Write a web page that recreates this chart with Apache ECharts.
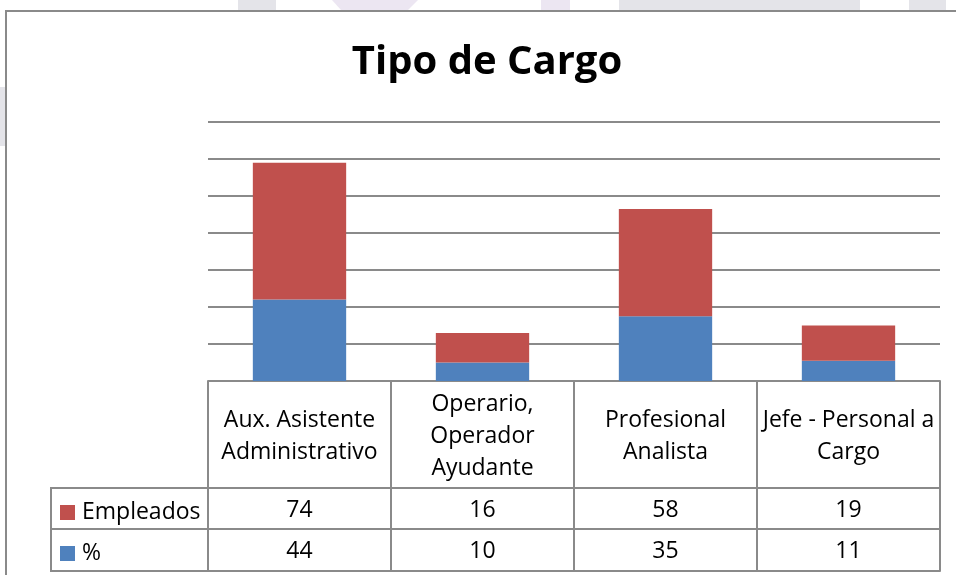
<!DOCTYPE html>
<html><head><meta charset="utf-8">
<script src="https://cdn.jsdelivr.net/npm/echarts@6/dist/echarts.min.js"></script>
<style>html,body{margin:0;padding:0;background:#fff}#c{width:956px;height:575px}</style>
</head><body><div id="c"></div>
<script>
const titleText = 'Tipo de Cargo';
const categories = ['Aux. Asistente\nAdministrativo', 'Operario,\nOperador\nAyudante', 'Profesional\nAnalista', 'Jefe - Personal a\nCargo'];
const empleados = [74, 16, 58, 19];
const porcentaje = [44, 10, 35, 11];
const seriesNames = ['Empleados', '%'];

const FONT = 'Open Sans';
const FS = 23;
const LINE = '#8a8a8a';
const chart = echarts.init(document.getElementById('c'), null, {renderer: 'canvas'});
const GB = 575 - 381;
function tableAxis(offset, labelFn, tickLen, margin) {
  return {
    type: 'category', data: categories, position: 'bottom', offset: offset, gridIndex: 0,
    axisLine: {show: true, lineStyle: {color: LINE, width: 2}},
    axisTick: {show: tickLen > 0, length: tickLen, lineStyle: {color: LINE, width: 2}},
    axisLabel: {show: !!labelFn, formatter: labelFn || undefined, margin: margin, verticalAlign: 'middle',
      color: '#000', fontFamily: FONT, fontSize: FS, lineHeight: 32, interval: 0},
    splitLine: {show: false}
  };
}
chart.setOption({
  animation: false,
  backgroundColor: '#fff',
  title: {text: titleText, left: 482, top: 38, textAlign: 'center',
    textStyle: {fontFamily: FONT, fontWeight: 'bold', fontSize: 40, color: '#000'}},
  legend: {
    data: seriesNames, orient: 'vertical', left: 55, top: 496, itemGap: 18,
    itemWidth: 15, itemHeight: 15, icon: 'rect', selectedMode: false,
    textStyle: {fontFamily: FONT, fontSize: FS, color: '#000', padding: [0, 0, 0, 2]}
  },
  grid: {left: 208, right: 16, top: 122, bottom: GB, containLabel: false},
  xAxis: [
    tableAxis(0, (v) => v, 107, 55),
    tableAxis(107, (v, i) => String(empleados[i]), 41, 22),
    tableAxis(148, (v, i) => String(porcentaje[i]), 42, 22),
    tableAxis(190, null, 0, 0)
  ],
  yAxis: {type: 'value', min: 0, max: 140, interval: 20,
    axisLabel: {show: false}, axisLine: {show: false}, axisTick: {show: false},
    splitLine: {show: true, lineStyle: {color: LINE, width: 2}}},
  series: [
    {name: '%', type: 'bar', stack: 't', data: porcentaje, barWidth: '51%', itemStyle: {color: '#4f81bd'}, z: 3},
    {name: 'Empleados', type: 'bar', stack: 't', data: empleados, barWidth: '51%', itemStyle: {color: '#c0504d'}, z: 3}
  ],
  graphic: [
    {type: 'rect', z: -10, shape: {x: 238, y: 0, width: 38, height: 10}, style: {fill: '#e4e4e9'}},
    {type: 'polygon', z: -10, shape: {points: [[332, 0], [418, 0], [408, 10], [341, 10]]}, style: {fill: '#ece6f2'}},
    {type: 'rect', z: -10, shape: {x: 541, y: 0, width: 29, height: 10}, style: {fill: '#ece6f2'}},
    {type: 'rect', z: -10, shape: {x: 619, y: 0, width: 241, height: 10}, style: {fill: '#e4e4e9'}},
    {type: 'rect', z: -10, shape: {x: 909, y: 0, width: 37, height: 10}, style: {fill: '#e4e4e9'}},
    {type: 'rect', z: -10, shape: {x: 0, y: 87, width: 5, height: 59}, style: {fill: '#e4e4e9'}},
    {type: 'rect', z: -5, shape: {x: 6, y: 11, width: 1000, height: 600}, style: {fill: '#fff', stroke: LINE, lineWidth: 2}},
    {type: 'line', z: 5, shape: {x1: 51, y1: 488, x2: 208, y2: 488}, style: {stroke: LINE, lineWidth: 2}},
    {type: 'line', z: 5, shape: {x1: 51, y1: 529, x2: 208, y2: 529}, style: {stroke: LINE, lineWidth: 2}},
    {type: 'line', z: 5, shape: {x1: 51, y1: 571, x2: 208, y2: 571}, style: {stroke: LINE, lineWidth: 2}},
    {type: 'line', z: 5, shape: {x1: 51, y1: 487, x2: 51, y2: 572}, style: {stroke: LINE, lineWidth: 2}}
  ]
});
</script></body></html>
